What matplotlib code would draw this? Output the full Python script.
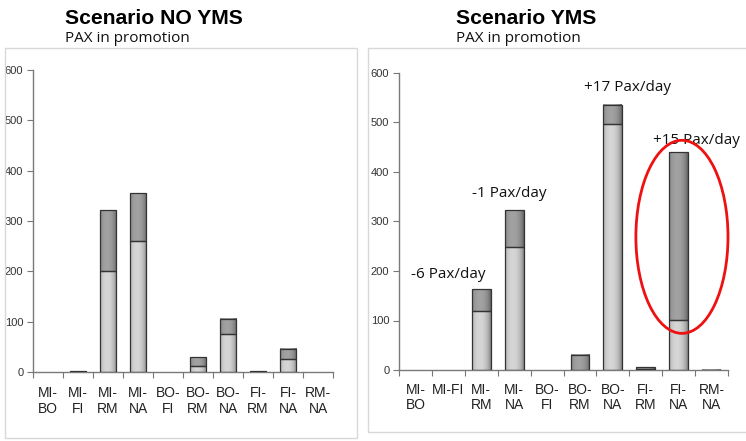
import numpy as np
import matplotlib
matplotlib.use("Agg")
import matplotlib.pyplot as plt
from matplotlib.patches import Rectangle, Ellipse
from matplotlib.colors import LinearSegmentedColormap

# Routes
routes_no = ["MI-\nBO", "MI-\nFI", "MI-\nRM", "MI-\nNA", "BO-\nFI",
             "BO-\nRM", "BO-\nNA", "FI-\nRM", "FI-\nNA", "RM-\nNA"]
routes_yms = ["MI-\nBO", "MI-FI", "MI-\nRM", "MI-\nNA", "BO-\nFI",
              "BO-\nRM", "BO-\nNA", "FI-\nRM", "FI-\nNA", "RM-\nNA"]

# PAX in promotion: lower segment and upper segment (stacked)
no_lower = [0, 0, 200, 260, 0, 12, 75, 0, 25, 0]
no_upper = [0, 1, 121, 95, 0, 17, 30, 1, 21, 0]

yms_lower = [0, 0, 120, 249, 0, 0, 496, 3, 102, 0]
yms_upper = [0, 0, 43, 74, 0, 31, 39, 4, 338, 1]

# Daily change labels on the YMS scenario
delta_labels = ["-6 Pax/day", "-1 Pax/day", "+17 Pax/day", "+15 Pax/day"]
delta_x = [1.0, 2.84, 6.46, 8.53]
delta_y = [192, 357, 570, 463]

W, H = 746, 441
fig = plt.figure(figsize=(W / 100, H / 100), dpi=100)
fig.patch.set_facecolor("white")

light_cmap = LinearSegmentedColormap.from_list("light", ["#5e5e5e", "#d6d6d6"])
dark_cmap = LinearSegmentedColormap.from_list("dark", ["#484848", "#a2a2a2"])

t = np.linspace(0, 1, 64)
profile = np.clip(1 - ((t - 0.42) / 0.62) ** 2, 0, 1) ** 0.6
grad = profile[np.newaxis, :]


def px_rect(x0, y0, x1, y1):
    return [x0 / W, 1 - y1 / H, (x1 - x0) / W, (y1 - y0) / H]


def shade(ax, bars, cmap):
    for b in bars:
        h = b.get_height()
        if h <= 0:
            b.set_linewidth(0)
            continue
        x0, y0, w = b.get_x(), b.get_y(), b.get_width()
        ax.imshow(grad, cmap=cmap, vmin=0, vmax=1, aspect="auto",
                  extent=(x0, x0 + w, y0, y0 + h), origin="lower",
                  zorder=2, interpolation="bilinear")


def draw_panel(rect, labels, lower, upper, width, label_pad):
    ax = fig.add_axes(rect)
    x = np.arange(len(labels))
    b1 = ax.bar(x, lower, width, color="none", edgecolor="#333333",
                linewidth=0.9, zorder=3)
    b2 = ax.bar(x, upper, width, bottom=lower, color="none",
                edgecolor="#333333", linewidth=0.9, zorder=3)
    shade(ax, b1, light_cmap)
    shade(ax, b2, dark_cmap)
    ax.set_xlim(-0.5, len(labels) - 0.5)
    ax.set_ylim(0, 600)
    ax.set_yticks(range(0, 601, 100))
    ax.set_xticks(np.arange(-0.5, len(labels), 1.0))
    ax.set_xticklabels([])
    ax.set_xticks(x, minor=True)
    ax.set_xticklabels(labels, minor=True, fontsize=10,
                       family="Liberation Sans", color="#222222",
                       linespacing=1.15)
    ax.tick_params(axis="x", which="minor", length=0, pad=label_pad)
    ax.tick_params(axis="x", which="major", length=4, direction="out",
                   color="#777777")
    ax.tick_params(axis="y", length=4, direction="out", color="#777777",
                   labelsize=8, labelcolor="#333333", pad=3)
    for lab in ax.get_yticklabels():
        lab.set_family("Liberation Sans")
    for s in ("top", "right"):
        ax.spines[s].set_visible(False)
    for s in ("left", "bottom"):
        ax.spines[s].set_color("#7a7a7a")
        ax.spines[s].set_linewidth(1.0)
    ax.set_facecolor("none")
    return ax


# Panel frames
fig.add_artist(Rectangle((5 / W, 1 - 438 / H), (357 - 5) / W, (438 - 48) / H,
                         transform=fig.transFigure, fill=False,
                         edgecolor="#d8d8d8", linewidth=1.0))
fig.add_artist(Rectangle((368 / W, 1 - 432 / H), (760 - 368) / W, (432 - 48) / H,
                         transform=fig.transFigure, fill=False,
                         edgecolor="#d8d8d8", linewidth=1.0, clip_on=False))

ax1 = draw_panel(px_rect(33, 70, 333, 372), routes_no, no_lower, no_upper, 0.55, 10)
ax2 = draw_panel(px_rect(399, 73, 728, 370), routes_yms, yms_lower, yms_upper, 0.57, 9)

# Titles
for xpx, title in [(65, "Scenario NO YMS"), (456, "Scenario YMS")]:
    fig.text(xpx / W, 1 - 24 / H, title, fontsize=15.2, fontweight="bold",
             family="Liberation Sans", ha="left", va="baseline")
    fig.text(xpx / W, 1 - 42 / H, "PAX in promotion", fontsize=11,
             family="Open Sans", ha="left", va="baseline", color="#111111")

# Change annotations
for lab, xv, yv in zip(delta_labels, delta_x, delta_y):
    ax2.text(xv, yv, lab, fontsize=11, family="Open Sans", ha="center",
             va="center", color="#111111", zorder=5, clip_on=False)

ax2.add_patch(Ellipse((8.10, 269), 2.8, 390, fill=False, edgecolor="#ee1111",
                      linewidth=2.0, zorder=6, clip_on=False))

fig.savefig("out.png", dpi=100)
